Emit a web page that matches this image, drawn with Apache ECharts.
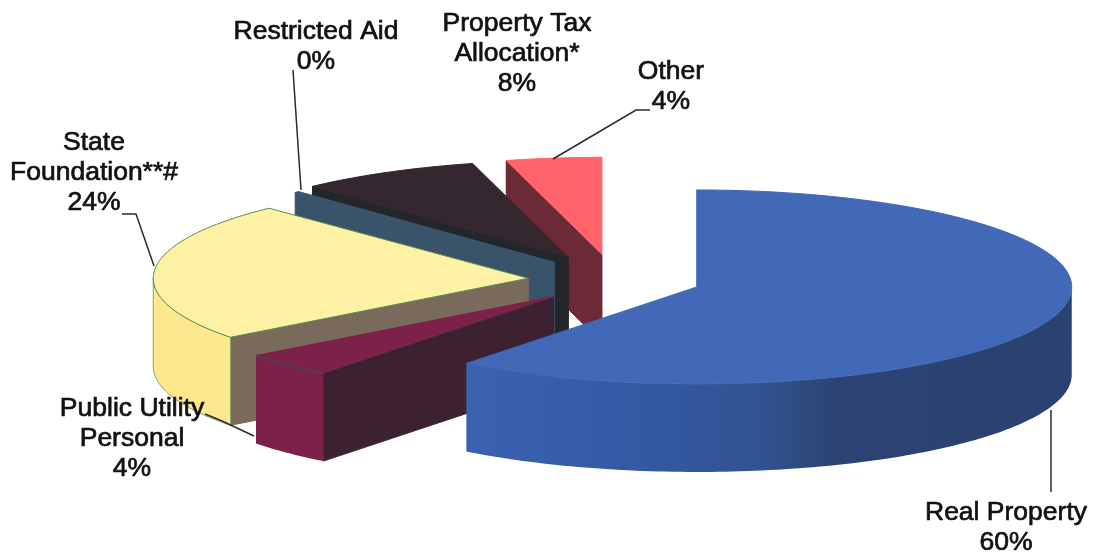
<!DOCTYPE html>
<html><head><meta charset="utf-8">
<style>html,body{margin:0;padding:0;background:#fff}#c{width:1094px;height:559px}</style>
<script src="https://cdn.jsdelivr.net/npm/echarts@6/dist/echarts.min.js"></script>
</head><body><div id="c"></div>
<script>
const categories = ['Real Property','Public Utility\nPersonal','State\nFoundation**#','Restricted Aid','Property Tax\nAllocation*','Other'];
const values = [60, 4.05, 24.35, 0.2, 7.55, 3.85];
const explode = [87, 88, 86, 90, 99, 100];
const topColors = ['#4169b8','#7c2149','#fdf1a4','#3a566e','#35272f','#ff646a'];
const rimColors = ['#3a60ad','#7c2149','#fde88e','#3a566e','#35272f','#ff646a'];
const wallColors = ['#3a60ad','#3c2230','#7a6a5c','#39536b','#23262b','#6b2a36'];
const labelPos = [[1006,528],[132,439],[94,173],[316,47],[517,54],[671,87]];
const leaders = [
  [[1051,410],[1051,492]],
  [[205,414],[222,421],[254,436]],
  [[122,214],[136,214],[154,266]],
  [[293,70],[301,190]],
  null,
  [[553,159],[636,110],[650,110]]
];
const center = [614, 280], rx = 375, ry = 97, depth = 88;
const warpDeg = 2; // foreshortening of angles from the 3D view
const total = values.reduce((a, b) => a + b, 0);
const n = values.length;
function warp(a) { return a + warpDeg * Math.PI / 180 * Math.sin(2 * a); }
function pt(tip, a, y) {
  return [tip[0] + rx * Math.sin(a), tip[1] - ry * Math.cos(a) + (y || 0)];
}
function arc(tip, a0, a1, y) {
  const out = [], steps = Math.max(2, Math.ceil(Math.abs(a1 - a0) / 0.02));
  for (let i = 0; i <= steps; i++) out.push(pt(tip, a0 + (a1 - a0) * i / steps, y));
  return out;
}
function renderItem(params, api) {
  const i = params.dataIndex;
  let start = 0;
  for (let k = 0; k < i; k++) start += values[k];
  const rawA0 = start / total * 2 * Math.PI;
  const rawA1 = (start + api.value(0)) / total * 2 * Math.PI;
  const mid = (rawA0 + rawA1) / 2;
  const a0 = warp(rawA0), a1 = warp(rawA1);
  const tip = [center[0] + explode[i] * Math.sin(mid), center[1] - explode[i] * Math.cos(mid) * ry / rx];
  const z = (n - i) * 10;
  const kids = [];
  // radial wall at the start edge, when it faces the viewer
  if (Math.sin(a0) < -1e-6) {
    const o = pt(tip, a0);
    kids.push({type:'polygon', z2:z, shape:{points:[tip, o, [o[0], o[1] + depth], [tip[0], tip[1] + depth]]},
      style:{fill:wallColors[i], stroke:wallColors[i], lineWidth:1}});
  }
  // curved outer wall
  const r0 = Math.max(a0, Math.PI / 2), r1 = Math.min(a1, 1.5 * Math.PI);
  if (r1 > r0) {
    const upper = arc(tip, r0, r1, 0), lower = arc(tip, r1, r0, depth);
    let fill = rimColors[i];
    if (i === 0) fill = {type:'linear', x:1, y:0, x2:0, y2:0, colorStops:[
      {offset:0, color:'#2a4272'},{offset:0.4, color:'#2b4474'},{offset:0.5, color:'#31528f'},
      {offset:0.7, color:'#3459a3'},{offset:1, color:'#3a62b0'}]};
    kids.push({type:'polygon', z2:z + 1, shape:{points:upper.concat(lower)},
      style:{fill:fill, stroke:i === 2 ? '#7fa56a' : null, lineWidth:1}});
  }
  // top face
  kids.push({type:'polygon', z2:z + 2, shape:{points:[tip].concat(arc(tip, a0, a1, 0))},
    style:{fill:topColors[i], stroke:i === 2 ? '#5d8a50' : topColors[i], lineWidth:1}});
  if (i === 1) kids.push({type:'polyline', z2:z + 3, shape:{points:arc(tip, a0, a1, 0)},
    style:{fill:null, stroke:'#4a4350', lineWidth:1.5}});
  // leader
  if (leaders[i]) kids.push({type:'polyline', z2:200, shape:{points:leaders[i]}, style:{fill:null, stroke:'#2b2b2b', lineWidth:1.5}});
  // label
  kids.push({type:'text', z2:300, x:labelPos[i][0], y:labelPos[i][1], style:{
    text:categories[i] + '\n' + Math.round(api.value(0)) + '%',
    font:'26.5px "Liberation Sans", Arial, sans-serif', lineHeight:30, fill:'#111', stroke:'#111', lineWidth:0.7,
    align:'center', verticalAlign:'middle'}});
  return {type:'group', children:kids};
}
const chart = echarts.init(document.getElementById('c'), null, {renderer:'canvas'});
chart.setOption({
  animation:false, backgroundColor:'#fff',
  series:[{type:'custom', coordinateSystem:'none', renderItem:renderItem, data:values.map(v => [v])}]
});
</script></body></html>
